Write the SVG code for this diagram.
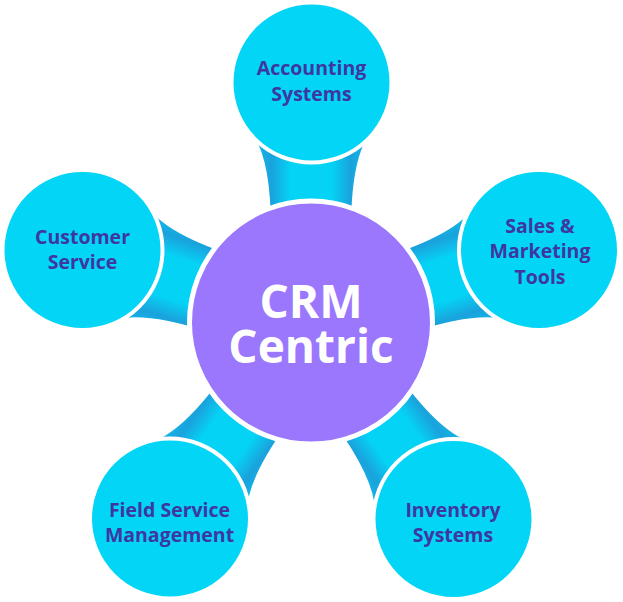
<svg xmlns="http://www.w3.org/2000/svg" width="623" height="602" viewBox="0 0 623 602">
  <style>
    .sat { fill: #03D5F6; stroke: #FFFFFF; stroke-width: 4; }
    .hub { fill: #9A77FD; stroke: #FFFFFF; stroke-width: 5; }
    .lbl { font-family: "Open Sans", "Liberation Sans", sans-serif; font-weight: 700; font-size: 19.5px; fill: #3F37A1; text-anchor: middle; }
    .hubtxt { font-family: "Open Sans", "Liberation Sans", sans-serif; font-weight: 700; font-size: 46px; fill: #FFFFFF; text-anchor: middle; }
  </style>
  <defs>
    <linearGradient id="neck" gradientUnits="userSpaceOnUse" x1="247" y1="0" x2="375" y2="0">
      <stop offset="0" stop-color="#0DC6F1"/>
      <stop offset="0.19" stop-color="#1AA2DC"/>
      <stop offset="0.34" stop-color="#05D3F6"/>
      <stop offset="0.66" stop-color="#05D3F6"/>
      <stop offset="0.81" stop-color="#1AA2DC"/>
      <stop offset="1" stop-color="#0DC6F1"/>
    </linearGradient>
    <path id="neckShape" d="M 246,127 Q 271,148 271,230 L 351,230 Q 351,148 376,127 L 376,100 L 246,100 Z"/>
  </defs>
  <g id="connectors" fill="url(#neck)">
    <use href="#neckShape" transform="rotate(0 311 323)"/>
    <use href="#neckShape" transform="rotate(72 311 323)"/>
    <use href="#neckShape" transform="rotate(144 311 323)"/>
    <use href="#neckShape" transform="rotate(216 311 323)"/>
    <use href="#neckShape" transform="rotate(288 311 323)"/>
  </g>
  <g id="accounting">
    <circle class="sat" cx="311.5" cy="82.5" r="80"/>
    <text class="lbl" x="311.5" y="75">Accounting</text>
    <text class="lbl" x="311.5" y="100.5">Systems</text>
  </g>
  <g id="sales">
    <circle class="sat" cx="539" cy="250" r="80"/>
    <text class="lbl" x="540" y="232.5">Sales &amp;</text>
    <text class="lbl" x="540" y="258">Marketing</text>
    <text class="lbl" x="540" y="283.5">Tools</text>
  </g>
  <g id="inventory">
    <circle class="sat" cx="453.5" cy="519" r="80"/>
    <text class="lbl" x="453" y="516.5">Inventory</text>
    <text class="lbl" x="453" y="542">Systems</text>
  </g>
  <g id="field">
    <circle class="sat" cx="170" cy="518.5" r="80"/>
    <text class="lbl" x="169.5" y="516.5">Field Service</text>
    <text class="lbl" x="169.5" y="542">Management</text>
  </g>
  <g id="customer">
    <circle class="sat" cx="82.5" cy="250" r="80"/>
    <text class="lbl" x="82.5" y="243.5">Customer</text>
    <text class="lbl" x="82.5" y="269">Service</text>
  </g>
  <g id="crm">
    <circle class="hub" cx="311" cy="322.5" r="121.5"/>
    <text class="hubtxt"><tspan x="311" y="318">CRM</tspan><tspan x="311" y="363">Centric</tspan></text>
  </g>
</svg>
